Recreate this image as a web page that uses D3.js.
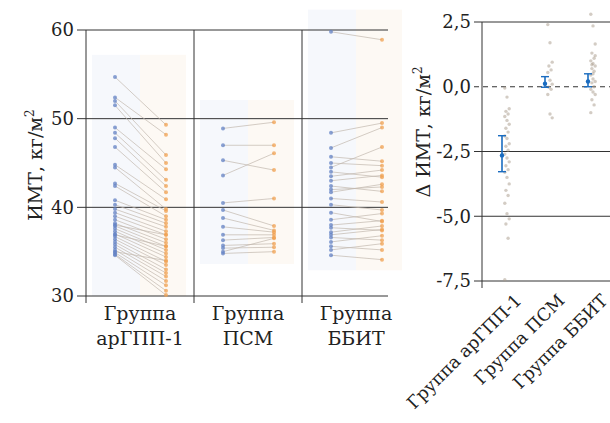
<!DOCTYPE html>
<html>
<head>
<meta charset="utf-8">
<script src="https://cdn.jsdelivr.net/npm/d3@7"></script>
<style>
  body { margin: 0; background: #fff; }
</style>
</head>
<body>
<svg id="chart"></svg>
<script>
var w = 610;
var h = 423;
var serif = "DejaVu Serif, Liberation Serif, serif";

// groups and tick labels
let groups = ["Группа арГПП-1", "Группа ПСМ", "Группа ББИТ"];
let groupLines = [["Группа", "арГПП-1"], ["Группа", "ПСМ"], ["Группа", "ББИТ"]];
let stages = ["before", "after"];
let bmiTicks = [30, 40, 50, 60];
let deltaTicks = [2.5, 0, -2.5, -5, -7.5];

// BMI before / after, paired by index
let glpBefore = [54.7, 52.4, 52.0, 51.5, 49.0, 48.4, 47.8, 46.8, 44.8, 44.5, 42.7, 42.4, 40.8, 40.3, 39.8, 39.4, 39.0, 38.6, 38.2, 37.9, 37.6, 37.3, 37.0, 36.7, 36.4, 36.1, 35.8, 35.5, 35.2, 34.9, 34.7, 34.6, 38.0, 36.9, 35.0];
let glpAfter = [49.3, 48.2, 45.9, 45.0, 44.3, 43.1, 42.4, 41.7, 40.9, 39.8, 39.6, 39.0, 38.6, 38.2, 37.8, 37.3, 36.9, 36.4, 36.0, 35.6, 35.2, 34.8, 34.4, 33.9, 33.5, 33.0, 32.6, 32.2, 31.7, 31.2, 30.6, 30.1, 36.9, 35.6, 34.0];
let psmBefore = [48.9, 47.0, 45.3, 43.6, 40.5, 39.7, 38.8, 37.8, 36.9, 36.3, 35.7, 35.4, 34.8, 35.0];
let psmAfter = [49.6, 47.0, 44.2, 46.1, 41.0, 37.9, 37.4, 37.2, 36.9, 36.6, 35.9, 35.5, 35.0, 36.5];
let bbitBefore = [59.8, 48.4, 46.7, 45.7, 44.5, 44.0, 43.5, 43.0, 42.4, 41.7, 41.0, 40.3, 38.6, 38.0, 37.7, 37.2, 36.6, 36.1, 35.6, 35.2, 34.6, 36.9, 39.4, 42.0, 45.0];
let bbitAfter = [58.9, 49.5, 49.0, 45.2, 46.8, 43.4, 44.2, 43.6, 41.8, 42.6, 40.6, 39.7, 39.3, 38.5, 37.4, 37.9, 36.3, 36.8, 35.2, 35.9, 34.1, 37.5, 38.4, 42.3, 44.7];

// change in BMI
let glpDelta = [-0.05, -0.4, -0.85, -0.95, -1.05, -1.15, -1.3, -1.45, -1.6, -1.75, -1.9, -2.0, -2.2, -2.3, -2.45, -2.6, -2.75, -2.9, -3.05, -3.2, -3.3, -3.5, -3.75, -4.0, -4.2, -4.5, -4.9, -5.1, -5.3, -5.85, -7.45];
let psmDelta = [2.4, 1.7, 0.95, 0.8, 0.65, 0.55, 0.25, 0.1, -0.02, -0.1, -0.3, -1.05, -1.2];
let bbitDelta = [2.8, 2.35, 1.65, 1.3, 1.1, 1.0, 0.9, 0.8, 0.7, 0.6, 0.45, 0.3, 0.2, 0.15, 0.0, -0.1, -0.2, -0.3, -0.5, -0.7, -1.0, 0.5, 1.2, 0.85];
let deltaMean = [-2.65, 0.12, 0.2];
let deltaLow = [-3.28, -0.02, 0.0];
let deltaHigh = [-1.89, 0.39, 0.5];

let pairs = [[glpBefore, glpAfter], [psmBefore, psmAfter], [bbitBefore, bbitAfter]];
let deltas = [glpDelta, psmDelta, bbitDelta];

var svg = d3.select("#chart")
    .attr("width", w)
    .attr("height", h)
    .style("font-family", serif);

var fmt = d3.formatLocale({ decimal: ",", thousands: " ", grouping: [3], currency: ["", ""], minus: "-" }).format(".1f");

// ---- left panel: paired BMI ----
var y = d3.scaleLinear().domain([30, 60]).range([296, 30]);
var facet = d3.scaleBand().domain(groups).range([86, 410]);
var inner = d3.scalePoint().domain(stages).range([29, 80]);
var gridRight = 388;

var left = svg.append("g");

// faint background per facet
groups.forEach((g, i) => {
    let all = pairs[i][0].concat(pairs[i][1]);
    let ext = d3.extent(all);
    let top = y(ext[1] + 2.5);
    let bot = y(Math.max(30, ext[0] - 1.2));
    let x0 = facet(g) + 6;
    let xm = facet(g) + 54;
    left.append("rect").attr("x", x0).attr("y", top).attr("width", xm - x0).attr("height", bot - top).attr("fill", "#f6f8fc");
    left.append("rect").attr("x", xm).attr("y", top).attr("width", 46).attr("height", bot - top).attr("fill", "#fdf9f4");
});

// gridlines
left.selectAll(".grid")
    .data(bmiTicks)
    .enter()
    .append("line")
    .attr("x1", 77).attr("x2", gridRight)
    .attr("y1", d => y(d)).attr("y2", d => y(d))
    .attr("stroke", "#333").attr("stroke-width", 1);

// facet dividers
left.selectAll(".div")
    .data(groups)
    .enter()
    .append("line")
    .attr("x1", d => facet(d)).attr("x2", d => facet(d))
    .attr("y1", y(60)).attr("y2", y(30) + 7)
    .attr("stroke", "#333").attr("stroke-width", 1);

left.selectAll(".ytick")
    .data(bmiTicks)
    .enter()
    .append("text")
    .attr("x", 74)
    .attr("y", d => y(d))
    .attr("dy", "0.35em")
    .attr("text-anchor", "end")
    .attr("fill", "#222")
    .style("font-size", "18px")
    .text(d => d);

// connecting lines and points
groups.forEach((g, i) => {
    let xb = facet(g) + inner("before");
    let xa = facet(g) + inner("after");
    let b = pairs[i][0], a = pairs[i][1];
    let gg = left.append("g");
    b.forEach((v, j) => {
        gg.append("line")
            .attr("x1", xb).attr("y1", y(v))
            .attr("x2", xa).attr("y2", y(a[j]))
            .attr("stroke", "#c2b8ae").attr("stroke-opacity", 0.7).attr("stroke-width", 1);
    });
    gg.selectAll(".b").data(b).enter().append("circle")
        .attr("cx", xb).attr("cy", d => y(d)).attr("r", 2)
        .attr("fill", "#6382c4").attr("fill-opacity", 0.75);
    gg.selectAll(".a").data(a).enter().append("circle")
        .attr("cx", xa).attr("cy", d => y(d)).attr("r", 2)
        .attr("fill", "#f0a050").attr("fill-opacity", 0.75);
});

// facet labels
groups.forEach((g, i) => {
    let t = left.append("text")
        .attr("x", facet(g) + facet.bandwidth() / 2)
        .attr("y", 320)
        .attr("text-anchor", "middle")
        .attr("fill", "#222")
        .style("font-size", "19px");
    groupLines[i].forEach((s, k) => {
        t.append("tspan").attr("x", facet(g) + facet.bandwidth() / 2).attr("dy", k == 0 ? 0 : 25).text(s);
    });
});

var yt = left.append("text")
    .attr("transform", "translate(42,165) rotate(-90)")
    .attr("text-anchor", "middle")
    .attr("fill", "#222")
    .style("font-size", "19px");
yt.append("tspan").text("ИМТ, кг/м");
yt.append("tspan").attr("dy", -8).style("font-size", "12px").text("2");

// ---- right panel: delta BMI ----
var yd = d3.scaleLinear().domain([-7.5, 2.5]).range([281, 22]);
var xd = d3.scalePoint().domain(groups).range([502, 588]);
var right = svg.append("g");

right.selectAll(".grid")
    .data(deltaTicks.filter(d => d != 0))
    .enter()
    .append("line")
    .attr("x1", 474).attr("x2", w)
    .attr("y1", d => yd(d)).attr("y2", d => yd(d))
    .attr("stroke", "#333").attr("stroke-width", 1);

right.append("line")
    .attr("x1", 474).attr("x2", w)
    .attr("y1", yd(0)).attr("y2", yd(0))
    .attr("stroke", "#333").attr("stroke-width", 1)
    .attr("stroke-dasharray", "5,4");

right.append("line")
    .attr("x1", 482).attr("x2", 482)
    .attr("y1", yd(2.5)).attr("y2", yd(-7.5) + 7)
    .attr("stroke", "#333");

right.selectAll(".ytick")
    .data(deltaTicks)
    .enter()
    .append("text")
    .attr("x", 471)
    .attr("y", d => yd(d))
    .attr("dy", "0.35em")
    .attr("text-anchor", "end")
    .attr("fill", "#222")
    .style("font-size", "18px")
    .text(d => fmt(d));

// jittered points
groups.forEach((g, i) => {
    right.selectAll(".p" + i)
        .data(deltas[i])
        .enter()
        .append("circle")
        .attr("cx", (d, j) => xd(g) + 5 + ((j * 7) % 5 - 2) * 1.1)
        .attr("cy", d => yd(d))
        .attr("r", 1.7)
        .attr("fill", "#a8998a")
        .attr("fill-opacity", 0.5);
});

// mean and CI
groups.forEach((g, i) => {
    let x = xd(g);
    let c = "#1a6cc0";
    right.append("line").attr("x1", x).attr("x2", x).attr("y1", yd(deltaHigh[i])).attr("y2", yd(deltaLow[i])).attr("stroke", c).attr("stroke-width", 1.6);
    right.append("line").attr("x1", x - 4).attr("x2", x + 4).attr("y1", yd(deltaHigh[i])).attr("y2", yd(deltaHigh[i])).attr("stroke", c).attr("stroke-width", 1.4);
    right.append("line").attr("x1", x - 4).attr("x2", x + 4).attr("y1", yd(deltaLow[i])).attr("y2", yd(deltaLow[i])).attr("stroke", c).attr("stroke-width", 1.4);
    right.append("circle").attr("cx", x).attr("cy", yd(deltaMean[i])).attr("r", 2.2).attr("fill", c);
});

// rotated group labels
right.selectAll(".xl")
    .data(groups)
    .enter()
    .append("text")
    .attr("transform", d => `translate(${xd(d) + 12},${293}) rotate(-45)`)
    .attr("text-anchor", "end")
    .attr("dy", "0.7em")
    .attr("fill", "#222")
    .style("font-size", "17.5px")
    .text(d => d);

var yt2 = right.append("text")
    .attr("transform", "translate(430,132) rotate(-90)")
    .attr("text-anchor", "middle")
    .attr("fill", "#222")
    .style("font-size", "19px");
yt2.append("tspan").text("Δ ИМТ, кг/м");
yt2.append("tspan").attr("dy", -8).style("font-size", "12px").text("2");
</script>
</body>
</html>
